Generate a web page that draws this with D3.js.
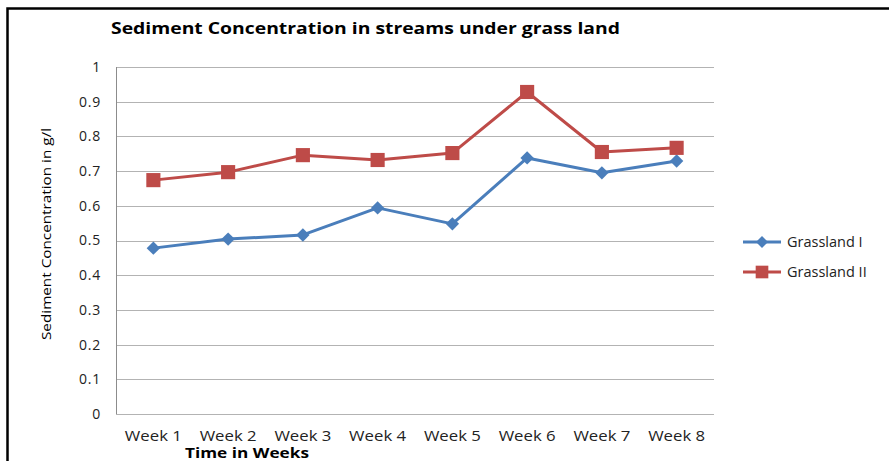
<!DOCTYPE html>
<html>
<head>
<meta charset="utf-8">
<script src="https://cdn.jsdelivr.net/npm/d3@7/dist/d3.min.js"></script>
<style>
  body { margin: 0; background: #fff; }
  text { font-family: "Open Sans", "Noto Sans", sans-serif; }
</style>
</head>
<body>
<svg width="889" height="461"></svg>
<script>
var weeks = ['Week 1', 'Week 2', 'Week 3', 'Week 4', 'Week 5', 'Week 6', 'Week 7', 'Week 8']
var grassland1 = [0.478, 0.504, 0.516, 0.594, 0.548, 0.738, 0.695, 0.729]
var grassland2 = [0.674, 0.697, 0.746, 0.732, 0.752, 0.928, 0.755, 0.767]
var yTicks = [0, 0.1, 0.2, 0.3, 0.4, 0.5, 0.6, 0.7, 0.8, 0.9, 1]

var svg = d3.select('svg')
var margin = { top: 67, left: 116 }
var width = 598
var height = 347

// outer frame
svg.append('rect')
  .attr('x', 7.5).attr('y', 8.5)
  .attr('width', 900).attr('height', 500)
  .attr('fill', 'none').attr('stroke', '#000').attr('stroke-width', 2.5)

svg.append('text')
  .attr('x', 111).attr('y', 34)
  .attr('font-size', 16.5).attr('font-weight', 'bold')
  .attr('textLength', 509).attr('lengthAdjust', 'spacingAndGlyphs')
  .text('Sediment Concentration in streams under grass land')

var g = svg.append('g')
  .attr('transform', 'translate(' + margin.left + ',' + margin.top + ')')

var x = d3.scaleBand().domain(weeks).range([0, width])
var y = d3.scaleLinear().domain([0, 1]).range([height, 0])

// gridlines
g.append('g')
  .selectAll('line')
  .data(yTicks)
  .enter().append('line')
  .attr('x1', 0).attr('x2', width)
  .attr('y1', function (d) { return Math.round(y(d)) + 0.5 })
  .attr('y2', function (d) { return Math.round(y(d)) + 0.5 })
  .attr('stroke', '#b3b3b3').attr('stroke-width', 1)

g.append('line')
  .attr('x1', 0.5).attr('x2', 0.5).attr('y1', 0).attr('y2', height)
  .attr('stroke', '#8c8c8c')

var yAxis = g.append('g')
  .call(d3.axisLeft(y).tickValues(yTicks).tickSize(0).tickPadding(15).tickFormat(d3.format('')))
yAxis.select('.domain').remove()
yAxis.selectAll('text').attr('font-size', 14).attr('fill', '#222')
  .attr('letter-spacing', 0.8)
  .style('font-family', '"Open Sans", sans-serif')

var xAxis = g.append('g')
  .attr('transform', 'translate(0,' + height + ')')
  .call(d3.axisBottom(x).tickSize(0).tickPadding(17))
xAxis.select('.domain').remove()
xAxis.selectAll('text').attr('font-size', 14).attr('fill', '#222')
  .attr('textLength', 57).attr('lengthAdjust', 'spacingAndGlyphs')
  .style('font-family', '"Open Sans", sans-serif')

svg.append('text')
  .attr('x', 185).attr('y', 458)
  .attr('font-size', 13.5).attr('font-weight', 'bold')
  .attr('textLength', 124).attr('lengthAdjust', 'spacingAndGlyphs')
  .text('Time in Weeks')

svg.append('text')
  .attr('transform', 'translate(51,234) rotate(-90)')
  .attr('text-anchor', 'middle')
  .attr('font-size', 13.5)
  .attr('textLength', 212).attr('lengthAdjust', 'spacingAndGlyphs')
  .text('Sediment Concentration in g/l')

var line = d3.line()
  .x(function (d, i) { return x(weeks[i]) + x.bandwidth() / 2 })
  .y(function (d) { return y(d) })

var series = [
  { name: 'Grassland I', values: grassland1, color: '#4a7ebb', rot: 45, size: 90 },
  { name: 'Grassland II', values: grassland2, color: '#be4b48', rot: 0, size: 200 }
]

series.forEach(function (s) {
  g.append('path')
    .datum(s.values)
    .attr('fill', 'none')
    .attr('stroke', s.color)
    .attr('stroke-width', 3)
    .attr('stroke-linejoin', 'round')
    .attr('d', line)
  g.selectAll(null)
    .data(s.values)
    .enter().append('path')
    .attr('transform', function (d, i) {
      return 'translate(' + (x(weeks[i]) + x.bandwidth() / 2) + ',' + y(d) + ') rotate(' + s.rot + ')'
    })
    .attr('d', d3.symbol().type(d3.symbolSquare).size(s.size))
    .attr('fill', s.color)
})

// legend
var legend = svg.append('g').attr('transform', 'translate(743,242)')
series.forEach(function (s, i) {
  var lg = legend.append('g').attr('transform', 'translate(0,' + (i * 30) + ')')
  lg.append('line').attr('x1', 0).attr('x2', 38)
    .attr('stroke', s.color).attr('stroke-width', 3)
  lg.append('path')
    .attr('transform', 'translate(19,0) rotate(' + s.rot + ')')
    .attr('d', d3.symbol().type(d3.symbolSquare).size(s.size * 0.8))
    .attr('fill', s.color)
  lg.append('text').attr('x', 44).attr('y', 5)
    .attr('font-size', 14.5).attr('fill', '#222')
    .text(s.name)
})
</script>
</body>
</html>
